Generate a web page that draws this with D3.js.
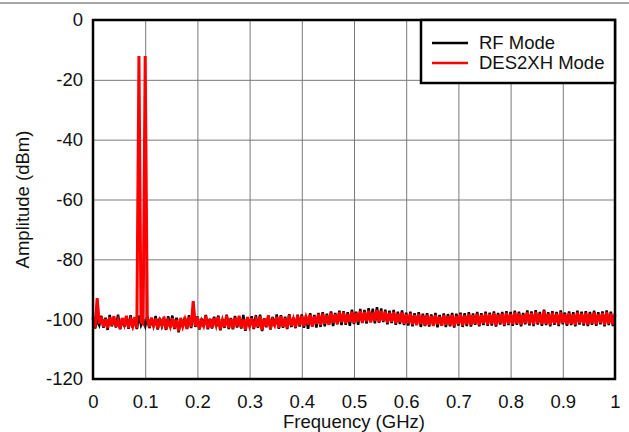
<!DOCTYPE html>
<html>
<head>
<meta charset="utf-8">
<script src="https://cdn.jsdelivr.net/npm/d3@7"></script>
<style>
  body { margin: 0; background: #fff; }
  svg text { font-family: Arial, "Liberation Sans", sans-serif; fill: #111; }
</style>
</head>
<body>
<div id="chart"></div>
<script>
// Tick labels
var xTicks = [0, 0.1, 0.2, 0.3, 0.4, 0.5, 0.6, 0.7, 0.8, 0.9, 1];
var yTicks = [0, -20, -40, -60, -80, -100, -120];

// Series names
var seriesNames = ["RF Mode", "DES2XH Mode"];

// Sweep: 0 to 1 GHz, one reading every 4 MHz (251 readings)
var freqStep = 0.004;

// RF Mode trace (dBm)
var rfMode = [
  -99.0, -103.1, -100.4, -102.0, -98.9, -102.9, -99.5, -103.6, -98.6, -102.4,
  -99.7, -102.8, -98.5, -103.4, -100.1, -102.5, -99.2, -103.2, -98.7, -102.9,
  -99.9, -103.3, -98.8, -102.0, -100.2, -102.3, -99.1, -103.0, -100.0, -102.6,
  -98.9, -103.5, -99.6, -102.4, -100.3, -103.6, -99.0, -102.8, -98.8, -103.3,
  -99.5, -104.4, -100.2, -102.7, -99.3, -103.3, -98.7, -103.0, -97.6, -102.6,
  -99.1, -103.5, -99.8, -102.6, -98.6, -103.4, -99.9, -103.1, -99.2, -102.5,
  -98.8, -103.7, -100.0, -102.9, -98.5, -103.3, -99.6, -103.4, -98.9, -102.8,
  -99.4, -103.1, -98.6, -103.9, -99.8, -102.6, -99.0, -103.3, -98.7, -102.9,
  -98.5, -104.0, -99.7, -102.7, -98.9, -103.5, -99.3, -102.4, -98.4, -103.2,
  -98.7, -102.9, -99.2, -103.3, -98.3, -102.6, -99.5, -103.0, -98.5, -102.5,
  -98.4, -102.9, -98.8, -103.2, -98.0, -102.5, -98.6, -102.8, -97.9, -102.6,
  -97.7, -102.4, -98.2, -101.8, -97.4, -102.3, -97.9, -101.7, -97.2, -102.0,
  -97.3, -101.9, -97.7, -102.2, -96.8, -101.6, -97.5, -101.9, -96.6, -101.3,
  -96.9, -101.5, -96.3, -100.9, -96.5, -101.4, -96.0, -101.2, -96.4, -101.0,
  -96.8, -101.7, -97.2, -101.3, -96.9, -101.9, -97.5, -101.6, -97.1, -102.0,
  -97.8, -102.1, -97.5, -102.4, -98.0, -101.9, -97.7, -102.6, -98.2, -102.3,
  -98.0, -102.5, -98.4, -102.0, -97.9, -102.7, -98.6, -102.2, -98.1, -102.6,
  -98.3, -102.4, -97.9, -102.8, -98.2, -102.1, -97.8, -102.6, -98.0, -102.3,
  -97.7, -102.5, -98.1, -101.9, -97.6, -102.4, -98.0, -102.0, -97.5, -102.2,
  -97.8, -102.1, -97.4, -102.5, -97.9, -101.8, -97.6, -102.3, -97.3, -102.0,
  -97.6, -102.2, -97.2, -101.9, -97.5, -102.4, -97.9, -101.7, -97.1, -102.1,
  -97.4, -102.3, -97.0, -101.8, -97.6, -102.2, -96.8, -102.0, -97.7, -102.4,
  -97.3, -101.9, -97.6, -102.3, -97.1, -101.7, -97.8, -102.2, -97.4, -102.0,
  -97.7, -102.4, -97.2, -101.8, -97.5, -102.1, -97.3, -102.3, -97.6, -101.9,
  -97.2, -102.2, -97.7, -101.7, -97.4, -102.4, -97.1, -102.0, -97.5, -102.3,
  -98.0
];

// DES2XH Mode trace (dBm), with tones near 0.09 and 0.1 GHz
var des2xhMode = [
  -99.5, -102.8, -93.0, -101.5, -99.2, -102.6, -100.0, -103.0, -99.4, -102.1,
  -99.0, -102.5, -100.3, -103.2, -99.6, -101.8, -98.9, -102.9, -100.2, -102.4,
  -99.3, -103.0, -12.0, -100.8, -101.5, -12.0, -100.0, -102.7, -99.5, -102.2,
  -99.8, -103.1, -100.4, -102.0, -99.2, -103.3, -100.6, -102.5, -99.7, -103.0,
  -100.2, -104.0, -99.6, -102.4, -100.1, -103.1, -99.3, -102.6, -94.0, -102.3,
  -99.4, -103.2, -100.5, -102.2, -98.9, -103.0, -100.0, -102.8, -99.6, -102.1,
  -99.2, -103.4, -100.3, -102.6, -98.8, -102.9, -99.9, -103.1, -99.5, -102.4,
  -98.9, -102.8, -100.1, -103.5, -99.3, -102.2, -99.7, -103.0, -100.2, -102.6,
  -99.1, -103.6, -99.8, -102.4, -98.7, -103.2, -100.4, -102.0, -99.2, -102.9,
  -99.0, -102.5, -99.7, -103.0, -98.6, -102.2, -99.9, -102.7, -98.8, -102.0,
  -98.9, -102.3, -99.4, -101.8, -98.5, -102.4, -99.1, -101.6, -98.3, -101.9,
  -98.2, -101.5, -98.7, -101.9, -97.9, -101.2, -98.4, -101.6, -97.7, -101.0,
  -97.8, -101.4, -98.3, -100.9, -97.5, -101.3, -98.0, -100.8, -97.4, -101.2,
  -97.6, -100.7, -97.2, -101.1, -97.8, -100.6, -96.9, -101.0, -97.3, -100.5,
  -97.5, -101.2, -97.9, -100.8, -97.6, -101.4, -98.2, -101.0, -97.8, -101.5,
  -98.4, -101.3, -98.1, -101.8, -98.6, -102.0, -98.3, -101.6, -98.8, -102.1,
  -98.5, -101.9, -99.0, -102.3, -98.6, -101.7, -99.2, -102.2, -98.7, -101.8,
  -99.0, -102.0, -98.5, -102.4, -98.9, -101.6, -98.4, -102.1, -98.8, -101.7,
  -98.3, -101.9, -98.7, -101.5, -98.2, -102.0, -98.6, -101.4, -98.1, -101.8,
  -98.4, -101.6, -98.0, -102.0, -98.5, -101.3, -98.2, -101.9, -97.9, -101.5,
  -98.3, -101.7, -97.8, -101.4, -98.1, -101.9, -98.5, -101.2, -97.7, -101.6,
  -98.0, -101.8, -97.6, -101.3, -98.2, -101.7, -97.2, -101.5, -98.3, -101.9,
  -97.9, -101.4, -98.2, -101.8, -97.7, -101.2, -98.4, -101.7, -98.0, -101.5,
  -98.3, -101.9, -97.8, -101.3, -98.1, -101.6, -97.9, -101.8, -98.2, -101.4,
  -97.8, -101.7, -98.3, -101.2, -98.0, -101.9, -97.7, -101.5, -98.1, -101.8,
  -98.6
];

var width = 629,
    height = 432,
    margin = { top: 20, right: 14, bottom: 53, left: 93 };

var svg = d3.select("#chart")
    .append("svg")
    .attr("width", width)
    .attr("height", height);

// thin gray rule across the top of the page
svg.append("line")
    .attr("x1", 0).attr("x2", width)
    .attr("y1", 3).attr("y2", 3)
    .attr("stroke", "#8a8a8a")
    .attr("stroke-width", 1.5);

var x = d3.scaleLinear()
    .domain([0, 1])
    .range([margin.left, width - margin.right]);

var y = d3.scaleLinear()
    .domain([-120, 0])
    .range([height - margin.bottom, margin.top]);

// Grid lines
svg.append("g")
    .attr("transform", `translate(0,${height - margin.bottom})`)
    .call(d3.axisBottom(x).tickValues(xTicks).tickSize(-(y(-120) - y(0))).tickFormat(""))
    .call(g => g.select(".domain").remove())
    .selectAll("line")
    .attr("stroke", "#7a7a7a")
    .attr("stroke-width", 1);

svg.append("g")
    .attr("transform", `translate(${margin.left},0)`)
    .call(d3.axisLeft(y).tickValues(yTicks).tickSize(-(x(1) - x(0))).tickFormat(""))
    .call(g => g.select(".domain").remove())
    .selectAll("line")
    .attr("stroke", "#7a7a7a")
    .attr("stroke-width", 1);

// Traces
var line = d3.line()
    .x((d, i) => x(i * freqStep))
    .y(d => y(d));

svg.append("path")
    .datum(rfMode)
    .attr("fill", "none")
    .attr("stroke", "#000")
    .attr("stroke-width", 2.5)
    .attr("d", line);

svg.append("path")
    .datum(des2xhMode)
    .attr("fill", "none")
    .attr("stroke", "#ff0000")
    .attr("stroke-width", 3)
    .attr("d", line);

// Plot frame
svg.append("rect")
    .attr("x", x(0))
    .attr("y", y(0))
    .attr("width", x(1) - x(0))
    .attr("height", y(-120) - y(0))
    .attr("fill", "none")
    .attr("stroke", "#000")
    .attr("stroke-width", 2.5);

// Axes labels (plain hyphen for negatives, as in the original)
var xAxis = svg.append("g")
    .attr("transform", `translate(0,${height - margin.bottom})`)
    .call(d3.axisBottom(x).tickValues(xTicks).tickSize(0).tickPadding(16).tickFormat(d => String(d)));
xAxis.select(".domain").remove();
xAxis.selectAll("text").style("font-size", "18.5px");

var yAxis = svg.append("g")
    .attr("transform", `translate(${margin.left},0)`)
    .call(d3.axisLeft(y).tickValues(yTicks).tickSize(0).tickPadding(10).tickFormat(d => String(d)));
yAxis.select(".domain").remove();
yAxis.selectAll("text").style("font-size", "18.5px");

svg.append("text")
    .attr("x", (x(0) + x(1)) / 2)
    .attr("y", 428)
    .attr("text-anchor", "middle")
    .style("font-size", "18.5px")
    .text("Frequency (GHz)");

svg.append("text")
    .attr("transform", `translate(28.5,${(y(0) + y(-120)) / 2}) rotate(-90)`)
    .attr("text-anchor", "middle")
    .style("font-size", "18.5px")
    .text("Amplitude (dBm)");

// Legend
var legend = svg.append("g");
legend.append("rect")
    .attr("x", 421)
    .attr("y", y(0))
    .attr("width", x(1) - 421)
    .attr("height", 63)
    .attr("fill", "#fff")
    .attr("stroke", "#000")
    .attr("stroke-width", 2.5);

var legendColors = ["#000", "#ff0000"];
seriesNames.forEach(function(name, i) {
    var ly = 43 + i * 20;
    legend.append("line")
        .attr("x1", 432).attr("x2", 468)
        .attr("y1", ly).attr("y2", ly)
        .attr("stroke", legendColors[i])
        .attr("stroke-width", 2.5);
    legend.append("text")
        .attr("x", 479)
        .attr("y", ly + 6)
        .style("font-size", "18.5px")
        .text(name);
});
</script>
</body>
</html>
